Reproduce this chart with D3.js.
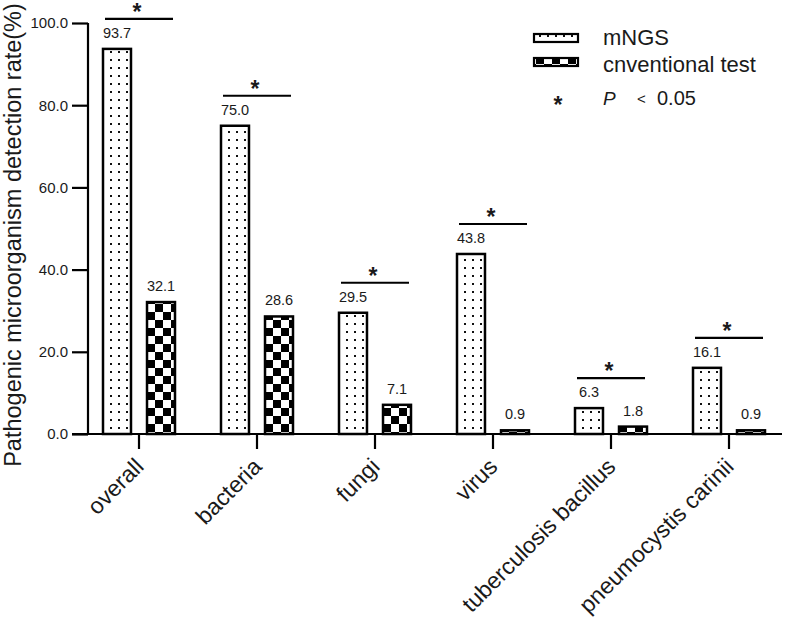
<!DOCTYPE html>
<html>
<head>
<meta charset="utf-8">
<script src="https://cdn.jsdelivr.net/npm/d3@7"></script>
<style>
  body { margin: 0; background: #fff; }
  text { font-family: Arial, "Liberation Sans", sans-serif; fill: #1a1a1a; }
</style>
</head>
<body>
<svg id="chart" width="787" height="620"></svg>
<script>
// values
var categories = ['overall', 'bacteria', 'fungi', 'virus', 'tuberculosis bacillus', 'pneumocystis carinii'];
var seriesNames = ['mNGS', 'cnventional test'];
var mngs = [93.7, 75.0, 29.5, 43.8, 6.3, 16.1];
var conventional = [32.1, 28.6, 7.1, 0.9, 1.8, 0.9];
var yTicks = [0, 20, 40, 60, 80, 100];

var svg = d3.select('#chart');

// patterns
var defs = svg.append('defs');
var dots = defs.append('pattern')
  .attr('id', 'dots')
  .attr('patternUnits', 'userSpaceOnUse')
  .attr('width', 8).attr('height', 8);
dots.append('rect').attr('width', 8).attr('height', 8).attr('fill', '#fff');
dots.append('rect').attr('x', 3).attr('y', 3).attr('width', 2).attr('height', 2).attr('fill', '#111');

var checks = defs.append('pattern')
  .attr('id', 'checks')
  .attr('patternUnits', 'userSpaceOnUse')
  .attr('width', 16).attr('height', 16);
checks.append('rect').attr('width', 16).attr('height', 16).attr('fill', '#fff');
checks.append('rect').attr('width', 8).attr('height', 8).attr('fill', '#000');
checks.append('rect').attr('x', 8).attr('y', 8).attr('width', 8).attr('height', 8).attr('fill', '#000');

var fills = ['url(#dots)', 'url(#checks)'];

var y = d3.scaleLinear().domain([0, 100]).range([434, 23]);
var x = d3.scaleBand().domain(categories).range([80, 788]);
var xSub = d3.scaleBand().domain(seriesNames).range([-36, 36]).paddingInner(0.364);

// y axis
var yAxis = svg.append('g')
  .attr('transform', 'translate(88,0)')
  .call(d3.axisLeft(y).tickValues(yTicks).tickSize(16).tickPadding(4)
    .tickFormat(d3.format('.1f')));
yAxis.select('.domain').attr('stroke-width', 2.2).attr('d', 'M0,' + y(100) + 'V' + y(0));
yAxis.selectAll('.tick line').attr('stroke-width', 2.2);
yAxis.selectAll('.tick text').style('font-size', '15px').attr('fill', '#1a1a1a');

// x axis
var xAxis = svg.append('g')
  .attr('transform', 'translate(0,434)')
  .call(d3.axisBottom(x).tickSize(15).tickFormat(''));
xAxis.select('.domain').attr('stroke-width', 2.2).attr('d', 'M72,0H782');
xAxis.selectAll('.tick line').attr('stroke-width', 2.2);

// rotated category labels
svg.append('g').selectAll('text')
  .data(categories)
  .enter()
  .append('text')
  .attr('transform', function(d) {
    return 'translate(' + (x(d) + x.bandwidth() / 2 + 6) + ',468) rotate(-45)';
  })
  .attr('text-anchor', 'end')
  .style('font-size', '23px')
  .text(function(d) { return d; });

// y title
svg.append('text')
  .attr('transform', 'translate(21,235) rotate(-90)')
  .attr('text-anchor', 'middle')
  .style('font-size', '23.5px')
  .text('Pathogenic microorganism detection rate(%)');

// bars
var rows = categories.map(function(c, i) {
  return { cat: c, vals: [mngs[i], conventional[i]] };
});

var groups = svg.append('g').selectAll('g')
  .data(rows)
  .enter()
  .append('g')
  .attr('transform', function(d) { return 'translate(' + (x(d.cat) + x.bandwidth() / 2) + ',0)'; });

groups.selectAll('rect')
  .data(function(d) { return d.vals; })
  .enter()
  .append('rect')
  .attr('x', function(d, i) { return xSub(seriesNames[i]); })
  .attr('width', xSub.bandwidth())
  .attr('y', function(d) { return y(d); })
  .attr('height', function(d) { return y(0) - y(d); })
  .attr('fill', function(d, i) { return fills[i]; })
  .attr('stroke', '#000')
  .attr('stroke-width', 2.5);

groups.selectAll('text.val')
  .data(function(d) { return d.vals; })
  .enter()
  .append('text')
  .attr('class', 'val')
  .attr('x', function(d, i) { return xSub(seriesNames[i]) + xSub.bandwidth() / 2; })
  .attr('y', function(d) { return y(d) - 11; })
  .attr('text-anchor', 'middle')
  .style('font-size', '14.5px')
  .text(function(d) { return d.toFixed(1); });

// significance bars
groups.append('line')
  .attr('x1', -34).attr('x2', 34)
  .attr('y1', function(d) { return y(d3.max(d.vals)) - 30; })
  .attr('y2', function(d) { return y(d3.max(d.vals)) - 30; })
  .attr('stroke', '#000')
  .attr('stroke-width', 2.2);

groups.append('text')
  .attr('x', -2)
  .attr('y', function(d) { return y(d3.max(d.vals)) - 30 + 1; })
  .attr('text-anchor', 'middle')
  .style('font-size', '23px')
  .style('font-weight', 'bold')
  .text('*');

// legend
var legend = svg.append('g');
seriesNames.forEach(function(name, i) {
  legend.append('rect')
    .attr('x', 534).attr('y', 34 + i * 24)
    .attr('width', 44).attr('height', 8)
    .attr('fill', fills[i])
    .attr('stroke', '#000')
    .attr('stroke-width', 2.2);
  legend.append('text')
    .attr('x', 603).attr('y', 45 + i * 27)
    .style('font-size', '22px')
    .text(name);
});
legend.append('text')
  .attr('x', 558).attr('y', 113)
  .attr('text-anchor', 'middle')
  .style('font-size', '23px')
  .style('font-weight', 'bold')
  .text('*');
legend.append('text')
  .attr('x', 603).attr('y', 105)
  .style('font-size', '19px')
  .style('font-style', 'italic')
  .text('P');
legend.append('text')
  .attr('x', 637).attr('y', 104)
  .style('font-size', '15px')
  .text('<');
legend.append('text')
  .attr('x', 657).attr('y', 105)
  .style('font-size', '20px')
  .text('0.05');
</script>
</body>
</html>
